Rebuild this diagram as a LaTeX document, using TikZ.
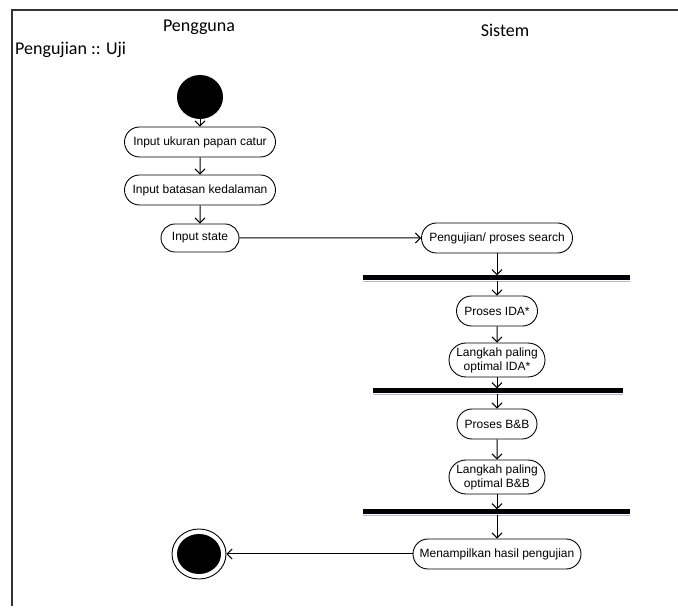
\documentclass[tikz,border=0pt]{standalone}
\usepackage{fontspec}
\newfontfamily\arialf{Liberation Sans}
\newfontfamily\calf{Carlito}
\usetikzlibrary{shapes.misc,shapes.geometric,arrows.meta}
\tikzset{
  act/.style={draw=black, line width=0.9pt, rounded rectangle, inner sep=2pt, align=center,
    font=\arialf\fontsize{12}{14}\selectfont, fill=white},
  flow/.style={draw=black, line width=1pt, -{Straight Barb[length=5pt,width=10pt]}},
  bar/.style={fill=black, inner sep=0pt, minimum height=5pt},
  hdr/.style={font=\calf\fontsize{18}{21}\selectfont, inner sep=0pt},
  frameline/.style={draw=black!80, line width=1.2pt},
  shadowline/.style={draw=blue!30!gray!45, line width=1.2pt}
}
\begin{document}
\begin{tikzpicture}[x=1pt,y=-1pt]
\useasboundingbox (0,0) rectangle (678,609);
% frame
\coordinate (fl) at (12,10);
\coordinate (fr) at (678,10);
\coordinate (fb) at (12,606);
\draw[frameline] (fr) -- (fl) -- (fb);
% headers
\node[hdr] (h1) at (199,27) {Pengguna};
\node[hdr] (h2) at (505,30) {Sistem};
\node[hdr, anchor=west] (h3) at (15,50) {Pengujian :: Uji};
% start
\node[fill=black, ellipse, minimum width=46pt, minimum height=44pt, inner sep=0pt] (start) at (200,97) {};
% activities
\node[act, minimum width=155pt, minimum height=30pt] (n1) at (200,142) {Input ukuran papan catur};
\node[act, minimum width=155pt, minimum height=30pt] (n2) at (200,190) {Input batasan kedalaman};
\node[act, minimum width=82pt, minimum height=28pt] (n3) at (200,238) {Input state};
\node[act, minimum width=155pt, minimum height=30pt] (p0) at (497,238) {Pengujian/ proses search};
\node[bar, minimum width=267pt] (b1) at (496.5,278) {};
\node[act, minimum width=85pt, minimum height=30pt] (ida) at (497,311) {Proses IDA*};
\node[act, minimum width=100pt, minimum height=34pt] (lida) at (497,360) {Langkah paling\\optimal IDA*};
\node[bar, minimum width=250pt] (b2) at (498,391) {};
\node[act, minimum width=84pt, minimum height=30pt] (bb) at (497,424) {Proses B\&B};
\node[act, minimum width=100pt, minimum height=34pt] (lbb) at (497,477) {Langkah paling\\optimal B\&B};
\node[bar, minimum width=267pt] (b3) at (496.5,512) {};
\node[act, minimum width=172pt, minimum height=30pt] (out) at (497,554) {Menampilkan hasil pengujian};
% end
\node[draw=black, line width=0.9pt, ellipse, minimum width=54pt, minimum height=50pt, inner sep=0pt] (endo) at (199,554) {};
\node[fill=black, ellipse, minimum width=44pt, minimum height=40pt, inner sep=0pt] (endi) at (199,554) {};
% faint shadows under bars
\draw[shadowline] ([yshift=-0.6pt]b1.south west) -- ([yshift=-0.6pt]b1.south east);
\draw[shadowline] ([yshift=-0.6pt]b2.south west) -- ([yshift=-0.6pt]b2.south east);
\draw[shadowline] ([yshift=-0.6pt]b3.south west) -- ([yshift=-0.6pt]b3.south east);
% flows
\draw[flow] (start) -- (n1);
\draw[flow] (n1) -- (n2);
\draw[flow] (n2) -- (n3);
\draw[flow] (n3) -- (p0);
\draw[flow] (p0.south) -- (p0.south |- b1.north);
\draw[flow] (p0.south |- b1.south) -- (ida.north);
\draw[flow] (ida) -- (lida);
\draw[flow] (lida.south) -- (lida.south |- b2.north);
\draw[flow] (lida.south |- b2.south) -- (bb.north);
\draw[flow] (bb) -- (lbb);
\draw[flow] (lbb.south) -- (lbb.south |- b3.north);
\draw[flow] (lbb.south |- b3.south) -- (out.north);
\draw[flow] (out) -- (endo);
\end{tikzpicture}
\end{document}
